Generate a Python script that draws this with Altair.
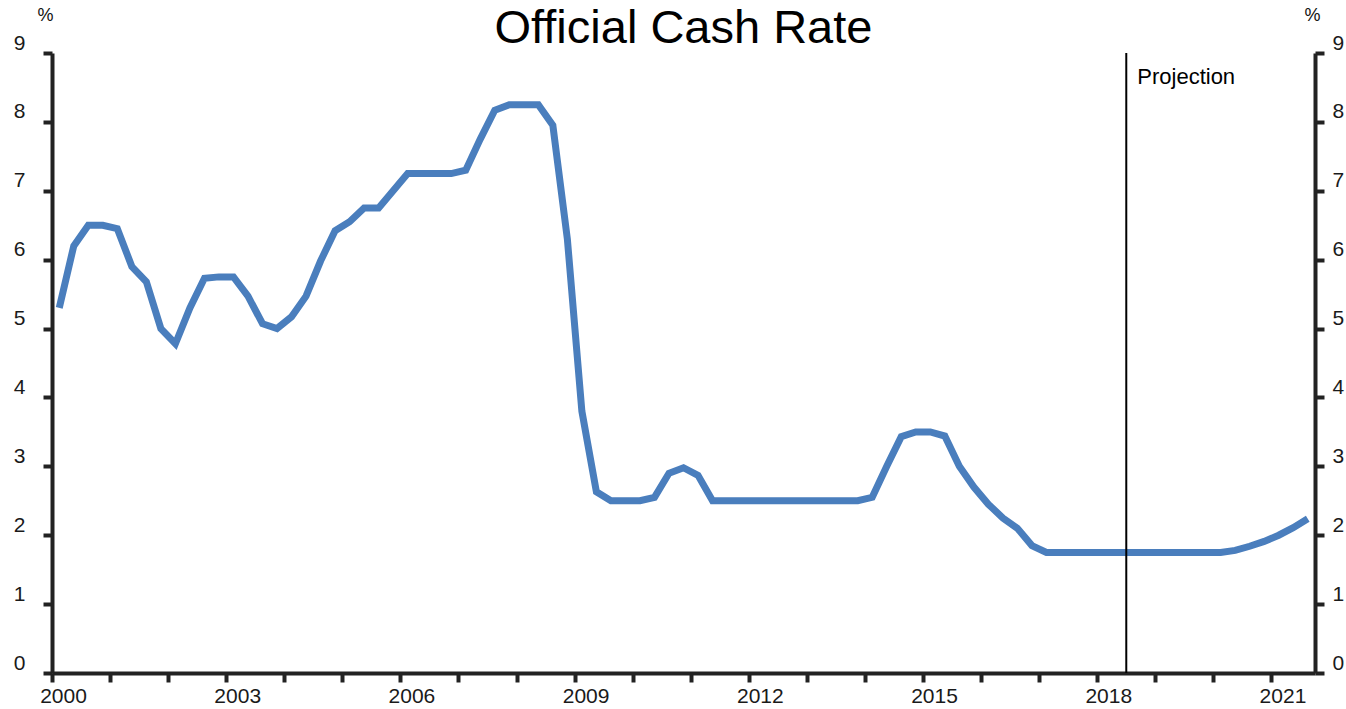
import altair as alt
import pandas as pd

quarters = [f"{y}Q{q}" for y in range(2000, 2022) for q in range(1, 5)][:87]
ocr = [
    5.30, 6.20, 6.50, 6.50,   # 2000
    6.45, 5.90, 5.68, 5.00,   # 2001
    4.78, 5.30, 5.73, 5.75,   # 2002
    5.75, 5.47, 5.07, 5.00,   # 2003
    5.17, 5.47, 5.98, 6.42,   # 2004
    6.55, 6.75, 6.75, 7.00,   # 2005
    7.25, 7.25, 7.25, 7.25,   # 2006
    7.30, 7.75, 8.17, 8.25,   # 2007
    8.25, 8.25, 7.95, 6.30,   # 2008
    3.80, 2.63, 2.50, 2.50,   # 2009
    2.50, 2.55, 2.90, 2.98,   # 2010
    2.87, 2.50, 2.50, 2.50,   # 2011
    2.50, 2.50, 2.50, 2.50,   # 2012
    2.50, 2.50, 2.50, 2.50,   # 2013
    2.55, 3.00, 3.43, 3.50,   # 2014
    3.50, 3.44, 3.00, 2.70,   # 2015
    2.45, 2.25, 2.10, 1.85,   # 2016
    1.75, 1.75, 1.75, 1.75,   # 2017
    1.75, 1.75, 1.75, 1.75,   # 2018
    1.75, 1.75, 1.75, 1.75,   # 2019
    1.75, 1.78, 1.84, 1.91,   # 2020
    2.00, 2.11, 2.24,         # 2021
]
year_ticks = list(range(2000, 2022))
y_ticks = list(range(0, 10))
projection_start = [2018.5]
projection_label = ["Projection"]
title_text = ["Official Cash Rate"]

def q_to_year(q):
    y, n = q.split("Q")
    return int(y) + (int(n) - 0.5) / 4

df = pd.DataFrame({"quarter": quarters, "t": [q_to_year(q) for q in quarters], "ocr": ocr})
proj_df = pd.DataFrame({"t": projection_start, "label": projection_label})
title_df = pd.DataFrame({"title": title_text})

FONT = "Liberation Sans"
AX = "#222222"
W, H = 1263, 620

x_enc = alt.X(
    "t:Q",
    scale=alt.Scale(domain=[2000, 2021.75], nice=False, zero=False),
    axis=alt.Axis(
        values=year_ticks,
        labelExpr="(datum.value - 2000) % 3 == 0 ? toString(datum.value) : ''",
        labelOffset=11,
        labelPadding=3,
        labelOverlap=False,
        labelFlush=False,
        labelBound=False,
        title=None,
    ),
)

yscale = alt.Scale(domain=[0, 9], nice=False, zero=True)

def y_axis(orient, pad, tx):
    return alt.Axis(
        values=y_ticks,
        orient=orient,
        labelOffset=-10,
        labelPadding=pad,
        title="%",
        titleAngle=0,
        titleX=tx,
        titleY=-38,
        titleAlign="center",
        titleBaseline="middle",
        titleFontSize=18,
        titleFontWeight="normal",
        titleFont=FONT,
        titleColor="#111111",
    )

line = alt.Chart(df).mark_line(color="#4a7ebd", strokeWidth=7).encode(
    x=x_enc,
    y=alt.Y("ocr:Q", scale=yscale, axis=y_axis("left", 18, -7)),
)

right = alt.Chart(df).mark_line(opacity=0).encode(
    x=alt.X("t:Q"),
    y=alt.Y("ocr:Q", scale=yscale, axis=y_axis("right", 8, -3)),
)

rule = alt.Chart(proj_df).mark_rule(color="black", strokeWidth=2).encode(x="t:Q")

label = alt.Chart(proj_df).mark_text(
    align="left", baseline="middle", dx=11, fontSize=22, font=FONT, color="black"
).encode(x="t:Q", y=alt.value(24), text="label:N")

title = alt.Chart(title_df).mark_text(
    align="center", baseline="alphabetic", fontSize=47, font=FONT, color="black"
).encode(x=alt.value(W / 2), y=alt.value(-10), text="title:N")

chart = (
    alt.layer(line, right, rule, label, title)
    .resolve_scale(y="independent")
    .properties(
        width=W,
        height=H,
        autosize=alt.AutoSizeParams(type="none"),
        padding={"left": 52, "top": 53, "right": 31, "bottom": 36},
        background="white",
    )
    .configure_axis(
        domainColor=AX, domainWidth=4, tickColor=AX, tickWidth=4, tickSize=9,
        grid=False, labelFont=FONT, labelFontSize=21, labelColor="#1a1a1a",
    )
    .configure_view(stroke=None)
)

chart.save("out.html", embed_options={"renderer": "svg", "actions": False})
